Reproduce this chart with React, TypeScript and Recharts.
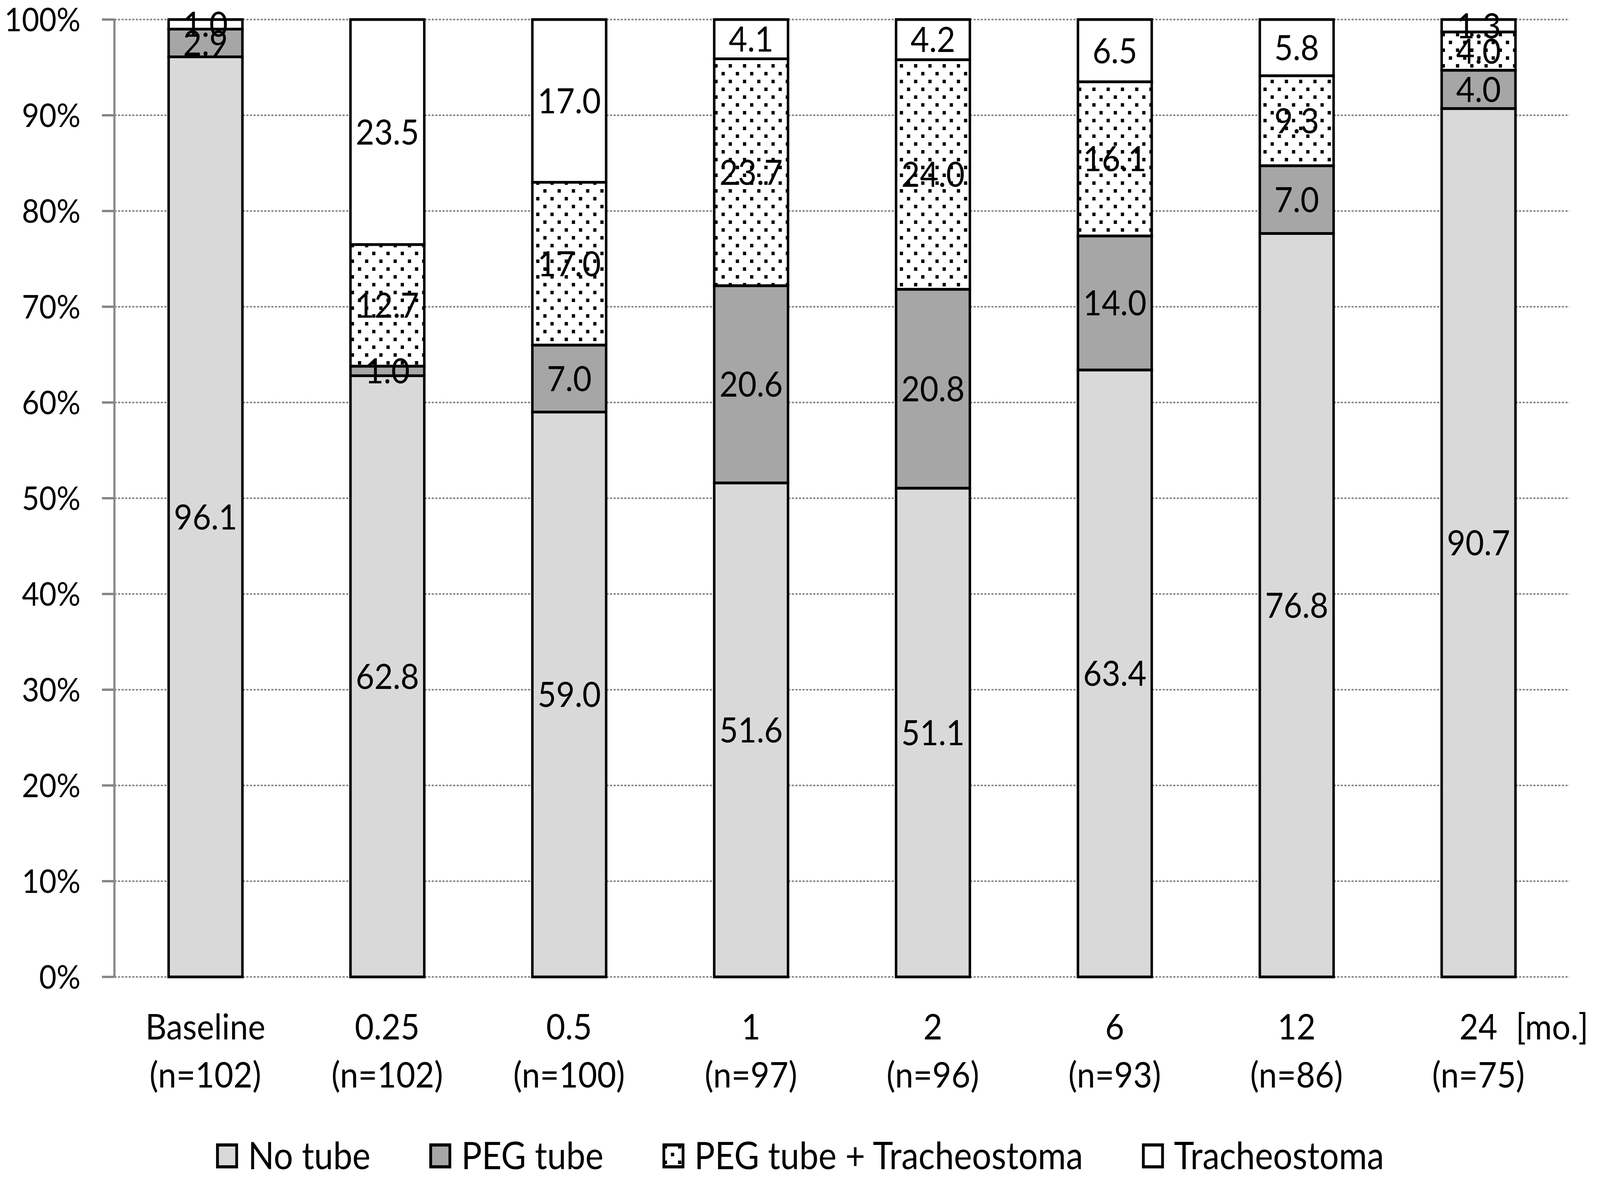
import { BarChart, Bar, XAxis, YAxis, CartesianGrid, Legend, LabelList } from 'recharts'

const categories = ['Baseline', '0.25', '0.5', '1', '2', '6', '12', '24']
const sampleSizes = [102, 102, 100, 97, 96, 93, 86, 75]
const noTube = [96.1, 62.8, 59.0, 51.6, 51.1, 63.4, 76.8, 90.7]
const pegTube = [2.9, 1.0, 7.0, 20.6, 20.8, 14.0, 7.0, 4.0]
const pegTrach = [0.0, 12.7, 17.0, 23.7, 24.0, 16.1, 9.3, 4.0]
const trach = [1.0, 23.5, 17.0, 4.1, 4.2, 6.5, 5.8, 1.3]
const yTicks = [0, 0.1, 0.2, 0.3, 0.4, 0.5, 0.6, 0.7, 0.8, 0.9, 1]
const boundaryTicks = [0, 1, 2, 3, 4, 5, 6, 7, 8]

const data = categories.map((cat, i) => ({
  cat,
  n: sampleSizes[i],
  noTube: noTube[i],
  pegTube: pegTube[i],
  pegTrach: pegTrach[i],
  trach: trach[i],
}))

const series = [
  { key: 'noTube', name: 'No tube', fill: '#d9d9d9' },
  { key: 'pegTube', name: 'PEG tube', fill: '#a6a6a6' },
  { key: 'pegTrach', name: 'PEG tube + Tracheostoma', fill: 'url(#dots)' },
  { key: 'trach', name: 'Tracheostoma', fill: '#ffffff' },
]

const FONT = 'Lato, "Open Sans", sans-serif'
const AXIS_GRAY = '#868686'
// the browser viewport is only 4096px wide, so the 4488px chart is squeezed to fit
const FIT_X = 4096 / 4488

const CategoryTick = ({ x, y, payload }: any) => {
  const i = categories.indexOf(payload.value)
  return (
    <g>
      <text x={x} y={y + 160} textAnchor="middle" fontSize={92} fontFamily={FONT} fill="#000">
        {payload.value}
      </text>
      <text x={x} y={y + 283} textAnchor="middle" fontSize={92} fontFamily={FONT} fill="#000">
        {`(n=${sampleSizes[i]})`}
      </text>
      {i === categories.length - 1 && (
        <text x={x + 105} y={y + 160} textAnchor="start" fontSize={92} fontFamily={FONT} fill="#000">
          [mo.]
        </text>
      )}
    </g>
  )
}

const LegendContent = () => (
  <div
    style={{
      display: 'flex',
      justifyContent: 'center',
      alignItems: 'flex-end',
      height: 118,
      fontFamily: FONT,
      fontSize: 96,
      lineHeight: 'normal',
      color: '#000',
    }}
  >
    {series.map((s, i) => (
      <div
        key={s.key}
        style={{ display: 'flex', alignItems: 'flex-end', marginRight: i < series.length - 1 ? 165 : 0 }}
      >
        <svg width={62} height={64} style={{ marginRight: 28, marginBottom: 22 }}>
          <rect x={4} y={4} width={54} height={56} fill={s.fill} stroke="#000" strokeWidth={8} />
        </svg>
        <span>{s.name}</span>
      </div>
    ))}
  </div>
)

export default function App() {
  return (
    <div
      style={{
        position: 'absolute',
        left: 0,
        top: 0,
        width: 4488,
        height: 3012,
        background: '#fff',
        transform: `scaleX(${FIT_X})`,
        transformOrigin: '0 0',
      }}
    >
      <BarChart
        width={4488}
        height={3012}
        data={data}
        stackOffset="expand"
        margin={{ top: 50, right: 86, left: 0, bottom: 0 }}
      >
        <defs>
          <pattern id="dots" width={40} height={40} patternUnits="userSpaceOnUse">
            <rect width={40} height={40} fill="#fff" />
            <rect x={4} y={4} width={9} height={9} fill="#000" />
            <rect x={24} y={24} width={9} height={9} fill="#000" />
          </pattern>
        </defs>
        <CartesianGrid
          xAxisId="cat"
          vertical={false}
          stroke={AXIS_GRAY}
          strokeWidth={4}
          strokeDasharray="6 4"
        />
        <XAxis
          xAxisId="edges"
          type="number"
          domain={[0, 8]}
          ticks={boundaryTicks}
          tick={false}
          height={0}
          axisLine={{ stroke: AXIS_GRAY, strokeWidth: 8 }}
          tickLine={{ stroke: AXIS_GRAY, strokeWidth: 6 }}
          tickSize={30}
        />
        <XAxis
          xAxisId="cat"
          dataKey="cat"
          axisLine={false}
          tickLine={false}
          tickSize={0}
          tickMargin={0}
          height={394}
          interval={0}
          tick={<CategoryTick />}
        />
        <YAxis
          width={321}
          domain={[0, 1]}
          ticks={yTicks}
          tickFormatter={(v: number) => `${Math.round(v * 100)}%`}
          axisLine={{ stroke: AXIS_GRAY, strokeWidth: 6 }}
          tickLine={{ stroke: AXIS_GRAY, strokeWidth: 6 }}
          tickSize={35}
          tickMargin={60}
          tick={{ fontSize: 84, fontFamily: FONT, fill: '#000' }}
        />
        <Legend verticalAlign="bottom" content={<LegendContent />} wrapperStyle={{ left: 0, width: 4488, bottom: 0 }} />
        {series.map((s) => (
          <Bar
            key={s.key}
            xAxisId="cat"
            dataKey={s.key}
            name={s.name}
            stackId="a"
            fill={s.fill}
            stroke="#000"
            strokeWidth={7}
            barSize={207}
            isAnimationActive={false}
          >
            <LabelList
              dataKey={s.key}
              position="center"
              formatter={(v: number) => Number(v).toFixed(1)}
              style={{ fontSize: 90, fontFamily: FONT, fill: '#000' }}
            />
          </Bar>
        ))}
      </BarChart>
    </div>
  )
}
